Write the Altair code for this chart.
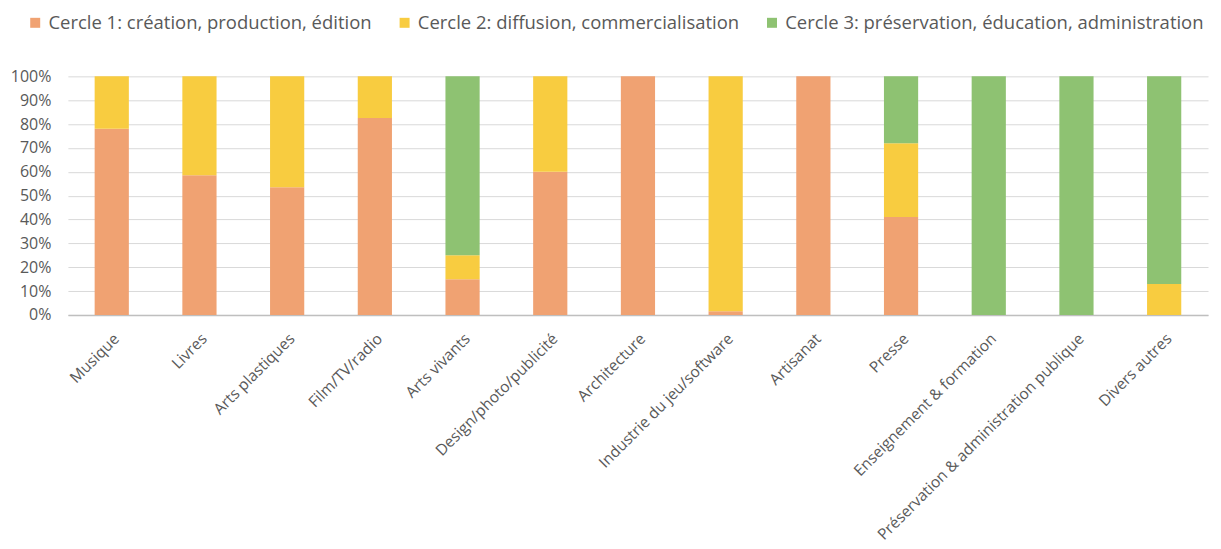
import altair as alt
import pandas as pd

categories = [
    "Musique", "Livres", "Arts plastiques", "Film/TV/radio", "Arts vivants",
    "Design/photo/publicité", "Architecture", "Industrie du jeu/software",
    "Artisanat", "Presse", "Enseignement & formation",
    "Préservation & administration publique", "Divers autres",
]
cercle1 = [78, 58.5, 53.5, 82.5, 15, 60, 100, 1.5, 100, 41, 0, 0, 0]
cercle2 = [22, 41.5, 46.5, 17.5, 10, 40, 0, 98.5, 0, 31, 0, 0, 13]
cercle3 = [0, 0, 0, 0, 75, 0, 0, 0, 0, 28, 100, 100, 87]
series_names = [
    "Cercle 1: création, production, édition",
    "Cercle 2: diffusion, commercialisation",
    "Cercle 3: préservation, éducation, administration",
]
colors = ["#F0A272", "#F8CC40", "#8EC272"]
y_ticks = [0, 10, 20, 30, 40, 50, 60, 70, 80, 90, 100]

rows = []
for i, cat in enumerate(categories):
    for j, vals in enumerate([cercle1, cercle2, cercle3]):
        rows.append({"cat": cat, "serie": series_names[j], "val": vals[i], "ord": j})
df = pd.DataFrame(rows)

chart = alt.Chart(df).mark_bar().encode(
    x=alt.X(
        "cat:N", sort=categories,
        scale=alt.Scale(paddingInner=0.61, paddingOuter=0.305),
        axis=alt.Axis(title=None, labelAngle=-45, labelFontSize=15.5, labelColor="#595959",
                      domainColor="#BFBFBF", domainWidth=1.5, ticks=False, labelPadding=16,
                      labelAlign="right", labelBaseline="top", labelLimit=400),
    ),
    y=alt.Y(
        "val:Q", stack="zero", scale=alt.Scale(domain=[0, 100], nice=False),
        axis=alt.Axis(title=None, values=y_ticks, labelExpr="datum.value + '%'",
                      labelFontSize=16, labelColor="#595959", domain=False, ticks=False,
                      labelPadding=17, gridColor="#D9D9D9", gridWidth=1),
    ),
    color=alt.Color(
        "serie:N",
        scale=alt.Scale(domain=series_names, range=colors),
        legend=alt.Legend(title=None, orient="none", legendX=-42, legendY=-63,
                          direction="horizontal", symbolType="square", symbolSize=100,
                          symbolStrokeWidth=0, labelFontSize=18.5, labelColor="#595959",
                          columnPadding=23, labelOffset=4, labelLimit=700, padding=0),
    ),
    order=alt.Order("ord:Q", sort="ascending"),
).properties(
    width=1142, height=239,
    padding={"left": 60, "top": 68, "right": 5, "bottom": 240},
    autosize="none",
).configure(font="Open Sans").configure_view(stroke=None)

chart.save("out.html", embed_options={"renderer": "svg", "actions": False})
